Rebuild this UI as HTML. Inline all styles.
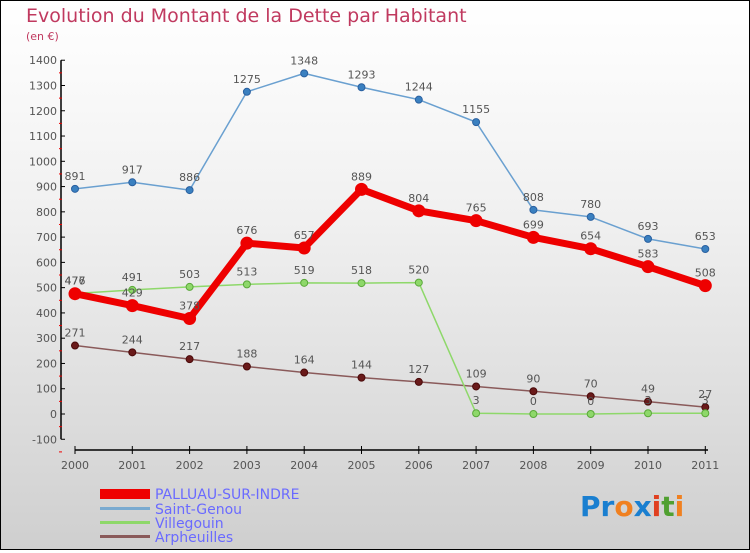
<!DOCTYPE html>
<html><head><meta charset="utf-8"><style>
body{margin:0}
#c{width:748px;height:548px;border:1px solid #000;background:linear-gradient(#ffffff,#f0f0f0 40%,#cfcfcf);position:relative;font-family:"DejaVu Sans","Liberation Sans",sans-serif}
</style></head><body>
<div id="c">
<svg width="748" height="548" viewBox="1 1 748 548" id="svg">
<text x="26" y="22" font-size="19" fill="#c0395f">Evolution du Montant de la Dette par Habitant</text>
<text x="26" y="40" font-size="11" fill="#c0395f">(en €)</text>
<g id="axes"></g><g id="series"></g>
<g font-size="14" fill="#6a6aff">
<rect x="100" y="489" width="50" height="10" fill="#e00"/>
<text x="155" y="499">PALLUAU-SUR-INDRE</text>
<rect x="100" y="507" width="50" height="3" fill="#7aaad0"/>
<text x="155" y="514">Saint-Genou</text>
<rect x="100" y="521" width="50" height="3" fill="#8ed86a"/>
<text x="155" y="528">Villegouin</text>
<rect x="100" y="535" width="50" height="3" fill="#8a5a5a"/>
<text x="155" y="542">Arpheuilles</text>
</g>
<text x="580" y="516" font-size="28" font-weight="bold"><tspan fill="#1a7fd0">Pr</tspan><tspan fill="#f08020">o</tspan><tspan fill="#1a7fd0">x</tspan><tspan fill="#e04020">i</tspan><tspan fill="#50a030">t</tspan><tspan fill="#f08020">i</tspan></text>
</svg></div>
<script>
const years=[2000,2001,2002,2003,2004,2005,2006,2007,2008,2009,2010,2011];
const yTicks=[1400,1300,1200,1100,1000,900,800,700,600,500,400,300,200,100,0,-100];
const palluau=[476,429,378,676,657,889,804,765,699,654,583,508];
const saintGenou=[891,917,886,1275,1348,1293,1244,1155,808,780,693,653];
const villegouin=[477,491,503,513,519,518,520,3,0,0,3,3];
const arpheuilles=[271,244,217,188,164,144,127,109,90,70,49,27];
const NS="http://www.w3.org/2000/svg";
const X=i=>75+i*57.3, Y=v=>414-v*0.2527;
function mk(t,a,p){const e=document.createElementNS(NS,t);for(const k in a)e.setAttribute(k,a[k]);p.appendChild(e);return e;}
const ax=document.getElementById('axes'),sr=document.getElementById('series');
let l=mk('line',{x1:61,y1:Y(1400),x2:61,y2:Y(-100),stroke:'#000','stroke-width':1.5},ax);


yTicks.forEach(v=>{
 mk('line',{x1:61,y1:Y(v),x2:65,y2:Y(v),stroke:'#000'},ax);
 mk('line',{x1:59,y1:Y(v-50),x2:62,y2:Y(v-50),stroke:'#e00'},ax);
 const t=mk('text',{x:57,y:Y(v)+4,'text-anchor':'end','font-size':11,fill:'#555'},ax);t.textContent=v;
 
 
});
l=mk('line',{x1:75,y1:450,x2:708,y2:450,stroke:'#000','stroke-width':1.5},ax);


years.forEach((y,i)=>{
 mk('line',{x1:X(i),y1:446,x2:X(i),y2:454,stroke:'#000'},ax);
 const t=mk('text',{x:X(i),y:469,'text-anchor':'middle','font-size':11,fill:'#555'},ax);t.textContent=y;
 
 
});
function series(d,name,col,w,r,dot,dotStroke){
 const g=mk('g',{},sr);
 
 
 const p=mk('polyline',{points:d.map((v,i)=>X(i)+','+Y(v)).join(' '),fill:'none',stroke:col,'stroke-width':w,'stroke-linejoin':'round'},g);
 
 
 d.forEach((v,i)=>{
  const c=mk('circle',{cx:X(i),cy:Y(v),r:r,fill:dot,stroke:dotStroke,'stroke-width':1},g);
  
  
  const t=mk('text',{x:X(i),y:Y(v)-9,'text-anchor':'middle','font-size':11,fill:'#555'},g);t.textContent=v;
  
  
 });
}
series(arpheuilles,'arpheuilles','#8a5a5a',1.5,3.5,'#6a1a1a','#4a0a0a');
series(villegouin,'villegouin','#8ed86a',1.5,3.5,'#8ed86a','#5aa83a');
series(saintGenou,'saint-genou','#6aa0d0',1.5,3.5,'#3a80c0','#2a60a0');
series(palluau,'palluau','#e00',7,6,'#e00','#e00');
</script>
</body></html>
